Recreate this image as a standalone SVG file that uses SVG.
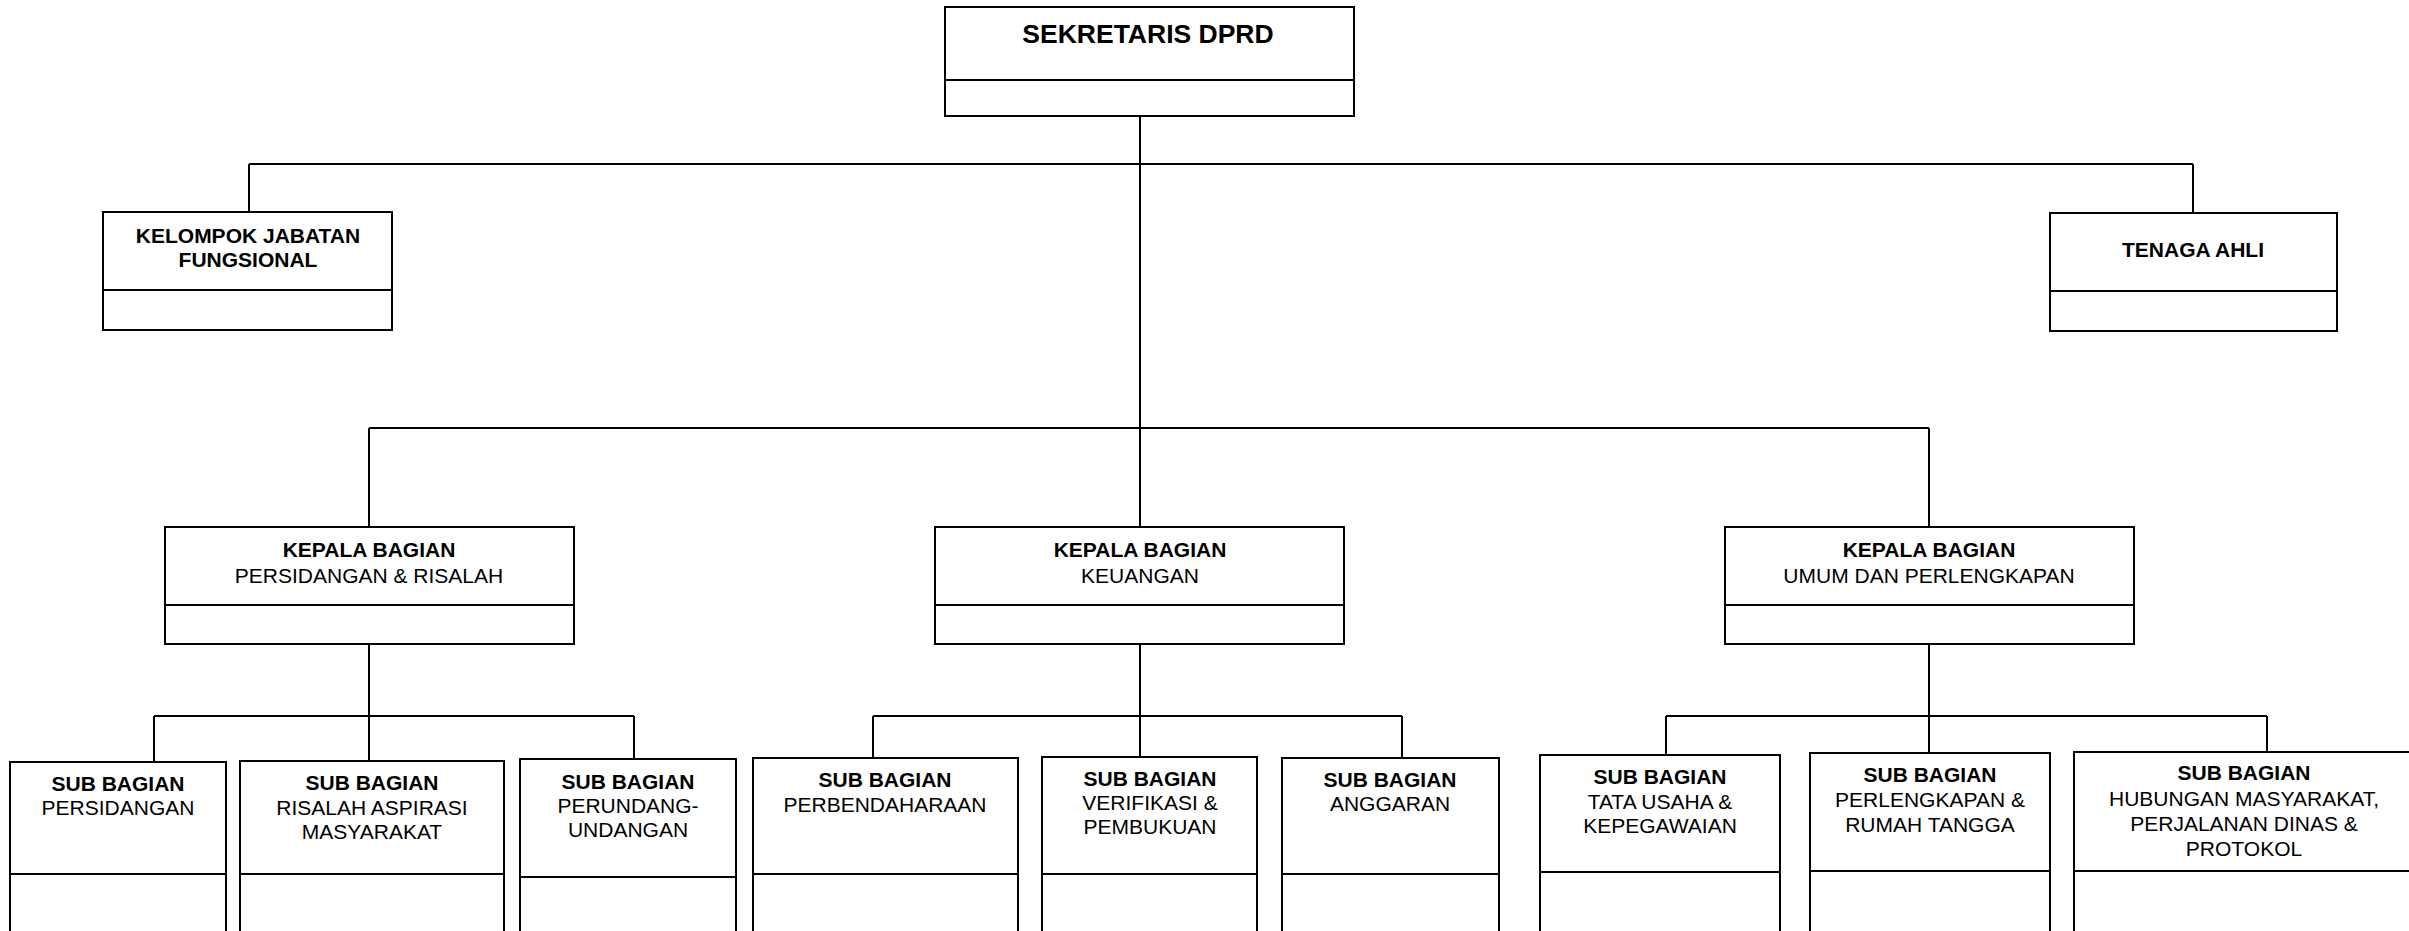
<svg xmlns="http://www.w3.org/2000/svg" width="2409" height="931" viewBox="0 0 2409 931">
<style>
rect.box{fill:#fff;stroke:#000;stroke-width:2}
line.div{stroke:#000;stroke-width:2}
#connectors line{stroke:#000;stroke-width:2}
text{font-family:"Liberation Sans",Arial,Helvetica,sans-serif;fill:#000;text-anchor:middle;font-size:21px}
text.b{font-weight:bold}
text.title{font-weight:bold;font-size:26.5px}
</style>
<rect x="0" y="0" width="2409" height="931" fill="#fff"/>
<g id="connectors">
<line x1="1140" y1="116" x2="1140" y2="527"/>
<line x1="249" y1="164" x2="2193" y2="164"/>
<line x1="249" y1="164" x2="249" y2="212"/>
<line x1="2193" y1="164" x2="2193" y2="213"/>
<line x1="369" y1="428" x2="1929" y2="428"/>
<line x1="369" y1="428" x2="369" y2="527"/>
<line x1="1929" y1="428" x2="1929" y2="527"/>
<line x1="369" y1="644" x2="369" y2="761"/>
<line x1="154" y1="716" x2="634" y2="716"/>
<line x1="154" y1="716" x2="154" y2="762"/>
<line x1="634" y1="716" x2="634" y2="759"/>
<line x1="1140" y1="644" x2="1140" y2="757"/>
<line x1="873" y1="716" x2="1402" y2="716"/>
<line x1="873" y1="716" x2="873" y2="758"/>
<line x1="1402" y1="716" x2="1402" y2="758"/>
<line x1="1929" y1="644" x2="1929" y2="753"/>
<line x1="1666" y1="716" x2="2267" y2="716"/>
<line x1="1666" y1="716" x2="1666" y2="755"/>
<line x1="2267" y1="716" x2="2267" y2="752"/>
</g>
<g id="sekretaris">
<rect class="box" x="945" y="7" width="409" height="109"/>
<line class="div" x1="945" y1="80" x2="1354" y2="80"/>
<text class="title" x="1148" y="43">SEKRETARIS DPRD</text>
</g>
<g id="kelompok">
<rect class="box" x="103" y="212" width="289" height="118"/>
<line class="div" x1="103" y1="290" x2="392" y2="290"/>
<text class="b" x="248" y="243">KELOMPOK JABATAN</text>
<text class="b" x="248" y="267">FUNGSIONAL</text>
</g>
<g id="tenaga">
<rect class="box" x="2050" y="213" width="287" height="118"/>
<line class="div" x1="2050" y1="291" x2="2337" y2="291"/>
<text class="b" x="2193" y="257">TENAGA AHLI</text>
</g>
<g id="kabag-persidangan">
<rect class="box" x="165" y="527" width="409" height="117"/>
<line class="div" x1="165" y1="605" x2="574" y2="605"/>
<text class="b" x="369" y="557">KEPALA BAGIAN</text>
<text x="369" y="583">PERSIDANGAN &amp; RISALAH</text>
</g>
<g id="kabag-keuangan">
<rect class="box" x="935" y="527" width="409" height="117"/>
<line class="div" x1="935" y1="605" x2="1344" y2="605"/>
<text class="b" x="1140" y="557">KEPALA BAGIAN</text>
<text x="1140" y="583">KEUANGAN</text>
</g>
<g id="kabag-umum">
<rect class="box" x="1725" y="527" width="409" height="117"/>
<line class="div" x1="1725" y1="605" x2="2134" y2="605"/>
<text class="b" x="1929" y="557">KEPALA BAGIAN</text>
<text x="1929" y="583">UMUM DAN PERLENGKAPAN</text>
</g>
<g id="sub-persidangan">
<rect class="box" x="10" y="762" width="216" height="190"/>
<line class="div" x1="10" y1="874" x2="226" y2="874"/>
<text class="b" x="118" y="791">SUB BAGIAN</text>
<text x="118" y="815">PERSIDANGAN</text>
</g>
<g id="sub-risalah">
<rect class="box" x="240" y="761" width="264" height="190"/>
<line class="div" x1="240" y1="874" x2="504" y2="874"/>
<text class="b" x="372" y="790">SUB BAGIAN</text>
<text x="372" y="815">RISALAH ASPIRASI</text>
<text x="372" y="839">MASYARAKAT</text>
</g>
<g id="sub-perundangan">
<rect class="box" x="520" y="759" width="216" height="190"/>
<line class="div" x1="520" y1="877" x2="736" y2="877"/>
<text class="b" x="628" y="789">SUB BAGIAN</text>
<text x="628" y="813">PERUNDANG-</text>
<text x="628" y="837">UNDANGAN</text>
</g>
<g id="sub-perbendaharaan">
<rect class="box" x="753" y="758" width="265" height="190"/>
<line class="div" x1="753" y1="874" x2="1018" y2="874"/>
<text class="b" x="885" y="787">SUB BAGIAN</text>
<text x="885" y="812">PERBENDAHARAAN</text>
</g>
<g id="sub-verifikasi">
<rect class="box" x="1042" y="757" width="215" height="190"/>
<line class="div" x1="1042" y1="874" x2="1257" y2="874"/>
<text class="b" x="1150" y="786">SUB BAGIAN</text>
<text x="1150" y="810">VERIFIKASI &amp;</text>
<text x="1150" y="834">PEMBUKUAN</text>
</g>
<g id="sub-anggaran">
<rect class="box" x="1282" y="758" width="217" height="190"/>
<line class="div" x1="1282" y1="874" x2="1499" y2="874"/>
<text class="b" x="1390" y="787">SUB BAGIAN</text>
<text x="1390" y="811">ANGGARAN</text>
</g>
<g id="sub-tatausaha">
<rect class="box" x="1540" y="755" width="240" height="190"/>
<line class="div" x1="1540" y1="872" x2="1780" y2="872"/>
<text class="b" x="1660" y="784">SUB BAGIAN</text>
<text x="1660" y="809">TATA USAHA &amp;</text>
<text x="1660" y="833">KEPEGAWAIAN</text>
</g>
<g id="sub-perlengkapan">
<rect class="box" x="1810" y="753" width="240" height="190"/>
<line class="div" x1="1810" y1="871" x2="2050" y2="871"/>
<text class="b" x="1930" y="782">SUB BAGIAN</text>
<text x="1930" y="807">PERLENGKAPAN &amp;</text>
<text x="1930" y="832">RUMAH TANGGA</text>
</g>
<g id="sub-humas">
<rect class="box" x="2074" y="752" width="345" height="190"/>
<line class="div" x1="2074" y1="871" x2="2419" y2="871"/>
<text class="b" x="2244" y="780">SUB BAGIAN</text>
<text x="2244" y="806">HUBUNGAN MASYARAKAT,</text>
<text x="2244" y="831">PERJALANAN DINAS &amp;</text>
<text x="2244" y="856">PROTOKOL</text>
</g>
</svg>
